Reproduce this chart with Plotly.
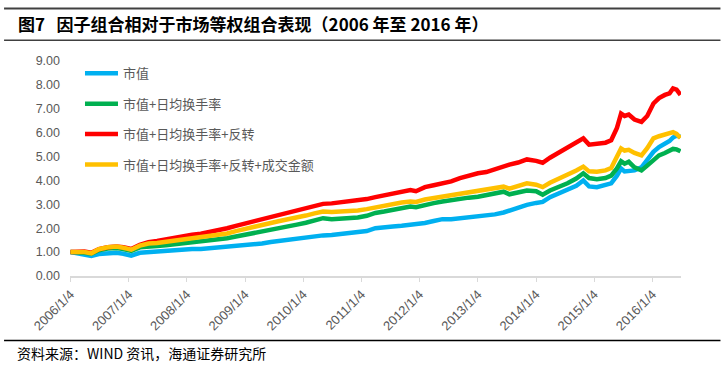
import plotly.graph_objects as go

# ---------------- data ----------------
dates = [
    "2006-01-04", "2006-02-14", "2006-04-01", "2006-05-15", "2006-07-01", "2006-08-25",
    "2006-10-20", "2006-12-02", "2007-01-20", "2007-03-15", "2007-05-08", "2007-07-01",
    "2007-08-25", "2007-10-20", "2007-12-12", "2008-02-06", "2008-04-01", "2008-05-26",
    "2008-07-20", "2008-09-13", "2008-11-07", "2009-01-04", "2009-02-25", "2009-04-20",
    "2009-06-14", "2009-08-08", "2009-10-01", "2009-11-25", "2010-01-20", "2010-03-15",
    "2010-05-08", "2010-07-01", "2010-08-25", "2010-10-20", "2010-12-12", "2011-02-06",
    "2011-04-01", "2011-05-26", "2011-07-20", "2011-09-13", "2011-11-07", "2011-12-12",
    "2012-02-06", "2012-04-01", "2012-05-26", "2012-07-20", "2012-09-13", "2012-11-07",
    "2013-01-04", "2013-02-25", "2013-04-20", "2013-06-14", "2013-07-20", "2013-09-13",
    "2013-11-07", "2014-01-04", "2014-02-14", "2014-04-01", "2014-05-26", "2014-07-20",
    "2014-09-13", "2014-10-27", "2014-12-02", "2015-01-20", "2015-03-15", "2015-04-20",
    "2015-05-26", "2015-06-21", "2015-07-13", "2015-08-08", "2015-09-13", "2015-10-27",
    "2015-12-02", "2016-01-10", "2016-02-14", "2016-03-22", "2016-04-20", "2016-05-12",
    "2016-06-03", "2016-06-28",
]

size_only = [
    1.00, 0.95, 0.90, 0.84, 0.92, 0.96, 0.97, 0.93, 0.85, 0.97, 1.00, 1.01,
    1.04, 1.07, 1.10, 1.13, 1.13, 1.16, 1.20, 1.22, 1.25, 1.29, 1.31, 1.36,
    1.42, 1.47, 1.52, 1.57, 1.61, 1.65, 1.70, 1.72, 1.75, 1.78, 1.82, 1.88,
    2.00, 2.05, 2.07, 2.10, 2.14, 2.16, 2.22, 2.30, 2.38, 2.38, 2.42, 2.45,
    2.48, 2.52, 2.58, 2.66, 2.75, 2.88, 2.98, 3.06, 3.10, 3.30, 3.45, 3.62,
    3.78, 4.00, 3.75, 3.72, 3.80, 3.88, 4.20, 4.50, 4.38, 4.40, 4.42, 4.55,
    4.85, 5.20, 5.40, 5.55, 5.65, 5.80, 5.88, 5.82,
]

size_turnover = [
    1.00, 1.00, 0.97, 0.93, 1.08, 1.15, 1.17, 1.13, 1.05, 1.20, 1.25, 1.26,
    1.29, 1.33, 1.36, 1.40, 1.42, 1.46, 1.52, 1.58, 1.65, 1.72, 1.79, 1.86,
    1.94, 2.01, 2.07, 2.15, 2.23, 2.32, 2.42, 2.38, 2.40, 2.42, 2.45, 2.52,
    2.64, 2.70, 2.78, 2.86, 2.91, 2.88, 2.98, 3.05, 3.12, 3.18, 3.25, 3.28,
    3.32, 3.40, 3.48, 3.53, 3.42, 3.50, 3.58, 3.55, 3.40, 3.58, 3.72, 3.88,
    4.08, 4.30, 4.10, 4.05, 4.10, 4.20, 4.50, 4.80, 4.70, 4.78, 4.55, 4.42,
    4.62, 4.88, 5.05, 5.15, 5.25, 5.32, 5.30, 5.22,
]

size_turnover_reversal = [
    1.00, 1.03, 1.02, 0.97, 1.12, 1.20, 1.23, 1.20, 1.13, 1.30, 1.42, 1.47,
    1.54, 1.60, 1.66, 1.73, 1.77, 1.84, 1.92, 2.00, 2.10, 2.20, 2.28, 2.38,
    2.47, 2.56, 2.64, 2.73, 2.82, 2.93, 3.02, 3.04, 3.08, 3.12, 3.16, 3.22,
    3.30, 3.38, 3.48, 3.56, 3.60, 3.55, 3.72, 3.80, 3.88, 3.96, 4.10, 4.20,
    4.30, 4.35, 4.48, 4.62, 4.66, 4.75, 4.88, 4.82, 4.74, 4.95, 5.15, 5.35,
    5.55, 5.76, 5.50, 5.52, 5.58, 5.68, 6.20, 6.80, 6.70, 6.76, 6.55, 6.45,
    6.70, 7.22, 7.45, 7.58, 7.65, 7.85, 7.80, 7.58,
]

size_turnover_reversal_amount = [
    1.00, 1.02, 1.00, 0.95, 1.12, 1.20, 1.23, 1.18, 1.10, 1.27, 1.36, 1.38,
    1.43, 1.48, 1.52, 1.57, 1.61, 1.67, 1.73, 1.78, 1.88, 1.98, 2.07, 2.15,
    2.22, 2.30, 2.36, 2.45, 2.53, 2.62, 2.70, 2.68, 2.70, 2.71, 2.74, 2.80,
    2.88, 2.94, 3.02, 3.08, 3.12, 3.10, 3.20, 3.26, 3.32, 3.38, 3.45, 3.50,
    3.53, 3.60, 3.68, 3.74, 3.66, 3.78, 3.88, 3.82, 3.72, 3.90, 4.06, 4.24,
    4.42, 4.58, 4.38, 4.36, 4.42, 4.52, 4.95, 5.34, 5.25, 5.28, 5.15, 5.05,
    5.35, 5.76, 5.85, 5.92, 6.00, 6.02, 5.95, 5.78,
]

series_names = [
    "市值",
    "市值+日均换手率",
    "市值+日均换手率+反转",
    "市值+日均换手率+反转+成交金额",
]
series_values = [size_only, size_turnover, size_turnover_reversal, size_turnover_reversal_amount]
series_colors = ["#00B0F0", "#00B050", "#FF0000", "#FFC000"]

tick_years = list(range(2006, 2017))
tick_vals = [f"{y}-01-04" for y in tick_years]
tick_text = [f"{y}/1/4" for y in tick_years]

title_text = "图7\u00a0\u00a0\u00a0因子组合相对于市场等权组合表现（2006 年至 2016 年）"
source_text = "资料来源：WIND 资讯，海通证券研究所"

# ---------------- layout helpers ----------------
W, H = 728, 372
PL, PR, PT, PB = 70, 681.5, 60.7, 276.3   # plot area in pixels


def px(x):
    return (x - PL) / (PR - PL)


def py(y):
    return (PB - y) / (PB - PT)


fig = go.Figure()
for name, vals, col in zip(series_names, series_values, series_colors):
    fig.add_trace(go.Scatter(
        x=dates, y=vals, name=name, mode="lines",
        line=dict(color=col, width=4.5),
        legendgroup=name,
    ))

CJK = "Noto Sans CJK SC"
fig.update_layout(
    width=W, height=H,
    margin=dict(l=PL, r=W - PR, t=PT, b=H - PB, pad=0),
    paper_bgcolor="white", plot_bgcolor="white",
    showlegend=True,
    legend=dict(
        x=px(80), y=py(58), xanchor="left", yanchor="top",
        bgcolor="rgba(0,0,0,0)",
        font=dict(family=CJK, size=13, color="#595959"),
        tracegroupgap=10.5,
        itemwidth=33,
    ),
    xaxis=dict(
        type="date",
        range=["2006-01-01", "2016-07-01"],
        tickvals=tick_vals, ticktext=tick_text,
        tickangle=-45,
        ticks="outside", ticklen=4, tickcolor="#d9d9d9", tickwidth=1,
        showline=True, linecolor="#d9d9d9", linewidth=1.5,
        showgrid=False, zeroline=False,
        tickfont=dict(family="Liberation Sans, Arial", size=13, color="#595959"),
    ),
    yaxis=dict(
        range=[0, 9], dtick=1, tickformat=".2f",
        showgrid=False, zeroline=False, showline=False,
        ticks="", ticklabelstandoff=9,
        tickfont=dict(family="Liberation Sans, Arial", size=12.5, color="#595959"),
    ),
)

shapes = [
    dict(type="line", xref="paper", yref="paper", x0=px(4), x1=px(721), y0=py(40), y1=py(40),
         line=dict(color="#404040", width=1.5)),
    dict(type="line", xref="paper", yref="paper", x0=px(4), x1=px(721), y0=py(341), y1=py(341),
         line=dict(color="#000000", width=1.5)),
    dict(type="line", xref="paper", yref="paper", x0=px(4), x1=px(721), y0=py(8), y1=py(8),
         line=dict(color="#404040", width=2)),
]
fig.update_layout(shapes=shapes)

fig.add_annotation(
    text=f"<b>{title_text}</b>", xref="paper", yref="paper",
    x=px(16), y=py(23), xanchor="left", yanchor="middle", showarrow=False,
    font=dict(family=CJK, size=17, color="#000000"),
)
fig.add_annotation(
    text=source_text, xref="paper", yref="paper",
    x=px(15), y=py(354), xanchor="left", yanchor="middle", showarrow=False,
    font=dict(family=CJK, size=14, color="#000000"),
)

# remove the browser's default 8px body margin so the figure sits at the page origin
fig.write_html(
    "out.html",
    config={"displayModeBar": False},
    post_script="document.body.style.margin='0';",
)
